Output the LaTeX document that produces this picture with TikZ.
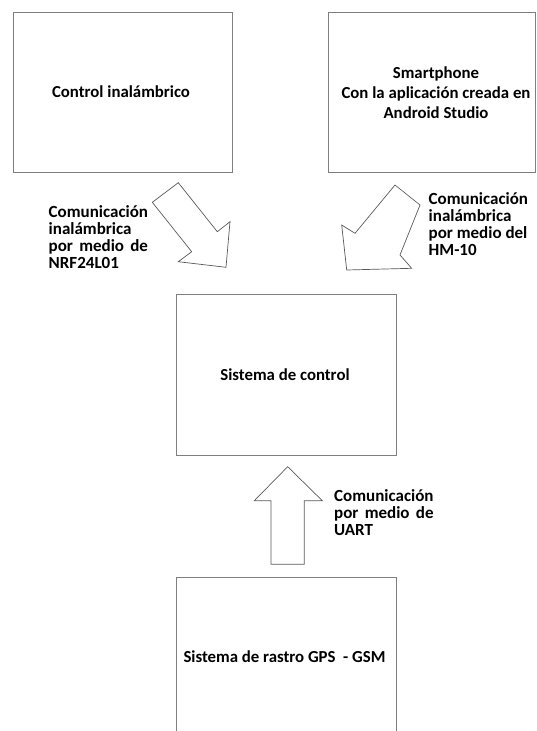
\documentclass[tikz,border=0pt]{standalone}
\usepackage{fontspec}
\setmainfont{Carlito}
\definecolor{boxline}{HTML}{7F7F7F}
\definecolor{arrline}{HTML}{5A5A5A}
\newlength\labw
\begin{document}
\settowidth{\labw}{\bfseries\fontsize{17}{17}\selectfont Comunicación}
\begin{tikzpicture}[x=1pt,y=-1pt,
  blockbox/.style={draw=boxline,line width=0.9pt},
  boxtext/.style={font=\bfseries\fontsize{16.8}{20}\selectfont,align=center,inner sep=0pt},
  labeltext/.style={font=\bfseries\fontsize{17}{17}\selectfont,align=left,inner sep=0pt,anchor=north west},
  blockarrow/.style={draw=arrline,line width=0.7pt,fill=white,line join=miter}]
\useasboundingbox (0,0) rectangle (536,731);

% boxes
\draw[blockbox] (13,12) rectangle (232,172);
\node[boxtext] (ctrl) at (121,92) {Control inalámbrico};

\draw[blockbox] (328,12) -- (535.5,12) -- (535.5,172) -- (328,172) -- cycle;
\node[boxtext] (phone) at (436,92.5) {Smartphone\\Con la aplicación creada en\\Android Studio};

\draw[blockbox] (176,294) rectangle (396,455);
\node[boxtext] (sys) at (285,375) {Sistema de control};

\draw[blockbox] (176,740) -- (176,577) -- (396,577) -- (396,740);
\node[boxtext] (gps) at (284.5,657) {Sistema de rastro GPS\ \ - GSM};

% block arrows
\draw[blockarrow] (178.3,182.7) -- (217.3,231.7) -- (230,221.7) -- (226,267.3)
  -- (178.3,261.7) -- (191.7,251.7) -- (152.3,202.3) -- cycle;
\draw[blockarrow] (395,185) -- (420,205) -- (400,255) -- (411.7,268.3)
  -- (346.7,270) -- (341.7,225) -- (355,233.3) -- cycle;
\draw[blockarrow] (287.7,466.7) -- (322.3,500.7) -- (304.3,500.7) -- (304.3,564.3)
  -- (271,564.3) -- (271,500.7) -- (254.3,500.7) -- cycle;

% labels
\node[labeltext] (lab1) at (48.5,205.5) {Comunicación\\inalámbrica\\\hbox to \labw{por\hfill medio\hfill de}\\NRF24L01};
\node[labeltext] (lab2) at (428.5,192.5) {Comunicación\\inalámbrica\\por medio del\\HM-10};
\node[labeltext] (lab3) at (334,489) {Comunicación\\\hbox to \labw{por\hfill medio\hfill de}\\UART};
\end{tikzpicture}
\end{document}
